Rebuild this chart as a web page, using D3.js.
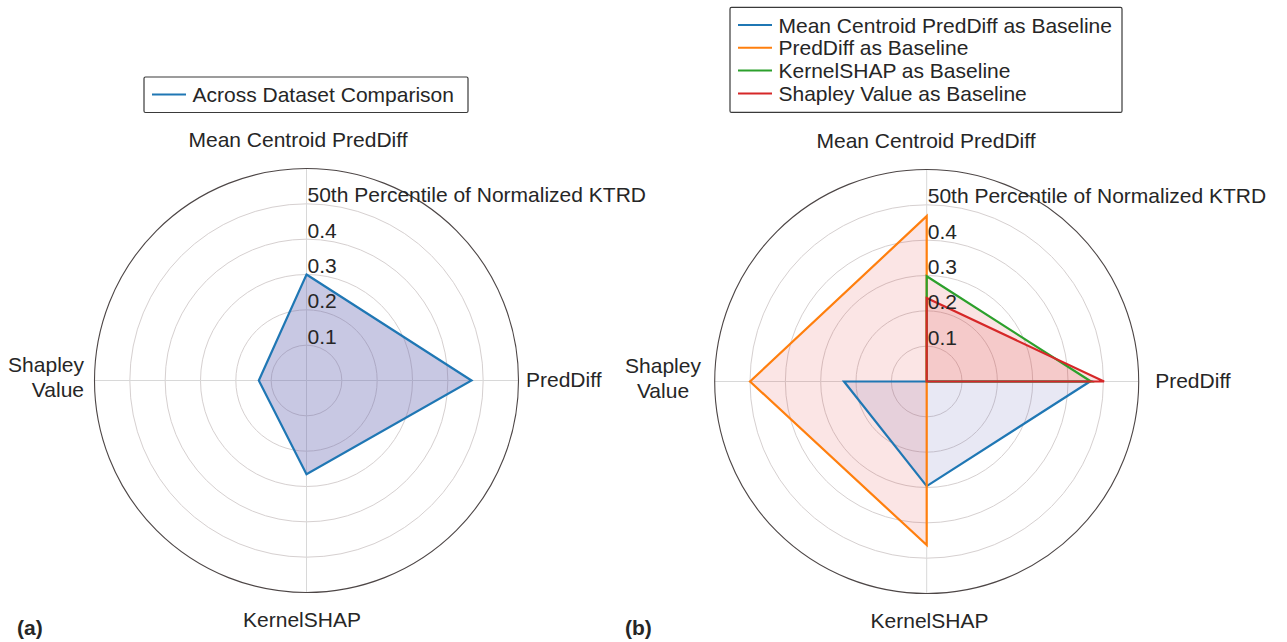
<!DOCTYPE html>
<html>
<head>
<meta charset="utf-8">
<script src="https://cdn.jsdelivr.net/npm/d3@7"></script>
<style>
  body { margin: 0; background: #fff; }
  svg { display: block; }
  text { font-family: "Liberation Sans", Arial, Helvetica, sans-serif; fill: #262626; }
</style>
</head>
<body>
<svg id="fig" width="1287" height="642"></svg>
<script>
// Spoke order, clockwise from the top
const axisNames = ["Mean Centroid PredDiff", "PredDiff", "KernelSHAP", "Shapley Value"];
const radialTicks = [0.1, 0.2, 0.3, 0.4];
const radialGrid = [0.1, 0.2, 0.3, 0.4, 0.5];
const radialMax = 0.6;
const axisTitle = "50th Percentile of Normalized KTRD";

// Panel (a): one series
const acrossNames = ["Across Dataset Comparison"];
const acrossValues = [0.300, 0.467, 0.265, 0.135];

// Panel (b): each method taken as baseline
const baselineNames = [
  "Mean Centroid PredDiff as Baseline",
  "PredDiff as Baseline",
  "KernelSHAP as Baseline",
  "Shapley Value as Baseline"
];
const meanCentroidBaseline = [0.000, 0.462, 0.296, 0.234];
const predDiffBaseline     = [0.468, 0.000, 0.463, 0.500];
const kernelShapBaseline   = [0.298, 0.465, 0.000, 0.000];
const shapleyBaseline      = [0.236, 0.502, 0.000, 0.000];

const lineColors = ["#1f77b4", "#ff7f0e", "#2ca02c", "#d62728"];

const svg = d3.select("#fig");
const R = 212;

function drawRadar(cfg) {
  const g = svg.append("g");
  const r = d3.scaleLinear().domain([0, radialMax]).range([0, R]);
  const ang = d3.scaleLinear().domain([0, axisNames.length]).range([0, 2 * Math.PI]);
  const cx = cfg.cx, cy = cfg.cy;
  const plot = g.append("g").attr("transform", `translate(${cx},${cy})`);

  // grid rings
  plot.selectAll("circle.ring").data(radialGrid).join("circle")
    .attr("r", d => r(d)).attr("fill", "none")
    .attr("stroke", "#d6d0d0").attr("stroke-width", 1);

  // spokes
  plot.selectAll("line.spoke").data(axisNames).join("line")
    .attr("x1", 0).attr("y1", 0)
    .attr("x2", (d, i) => r(radialMax) * Math.sin(ang(i)))
    .attr("y2", (d, i) => -r(radialMax) * Math.cos(ang(i)))
    .attr("stroke", "#d8d8d8").attr("stroke-width", 1);

  // outer boundary
  plot.append("circle").attr("r", r(radialMax)).attr("fill", "none")
    .attr("stroke", "#4d4646").attr("stroke-width", 1.1);

  const radial = d3.lineRadial()
    .angle((d, i) => ang(i))
    .radius(d => r(d))
    .curve(d3.curveLinearClosed);

  // fills first, outlines on top
  plot.selectAll("path.fill").data(cfg.series).join("path")
    .attr("d", s => radial(s.values))
    .attr("fill", s => s.fill).attr("fill-opacity", s => s.fillOpacity)
    .attr("stroke", "none");
  plot.selectAll("path.outline").data(cfg.series).join("path")
    .attr("d", s => radial(s.values))
    .attr("fill", "none").attr("stroke", s => s.color)
    .attr("stroke-width", 2.2).attr("stroke-linejoin", "miter");

  // radial tick labels along the top spoke
  plot.selectAll("text.tick").data(radialTicks).join("text")
    .attr("x", 1).attr("y", d => -r(d) - 1.5)
    .attr("font-size", 21).text(d => d3.format(".1f")(d));
  plot.append("text").attr("x", 1).attr("y", -r(0.5) - 1.5)
    .attr("font-size", 21).text(axisTitle);

  // spoke names
  const L = cfg.labels;
  g.append("text").attr("x", cx + L.top.dx).attr("y", cy - R - L.top.gap)
    .attr("text-anchor", "middle").attr("font-size", 21).text(axisNames[0]);
  g.append("text").attr("x", cx + R + L.right.gap).attr("y", cy + 6.5)
    .attr("text-anchor", "start").attr("font-size", 21).text(axisNames[1]);
  g.append("text").attr("x", cx + L.bottom.dx).attr("y", cy + R + L.bottom.gap)
    .attr("text-anchor", "middle").attr("font-size", 21).text(axisNames[2]);
  const words = axisNames[3].split(" ");
  const lt = g.append("text").attr("font-size", 21).attr("text-anchor", L.left.anchor);
  words.forEach((w, k) => {
    lt.append("tspan").attr("x", cx - R - L.left.gap).attr("y", cy - 8.5 + k * 25).text(w);
  });

  // legend
  const lg = cfg.legend;
  const leg = g.append("g");
  leg.append("rect").attr("x", lg.x).attr("y", lg.y).attr("width", lg.w).attr("height", lg.h)
    .attr("fill", "#fff").attr("stroke", "#3a3a3a").attr("stroke-width", 1.2).attr("rx", 1.5);
  cfg.series.forEach((s, k) => {
    const y = lg.y + lg.first + k * lg.step;
    leg.append("line").attr("x1", lg.x + 8).attr("x2", lg.x + 42).attr("y1", y).attr("y2", y)
      .attr("stroke", s.color).attr("stroke-width", 2);
    leg.append("text").attr("x", lg.x + 48.5).attr("y", y + 7.5).attr("font-size", 21).text(s.name);
  });

  // panel tag
  g.append("text").attr("x", cfg.tag.x).attr("y", 635).attr("font-size", 21)
    .attr("font-weight", "bold").attr("fill", "#1a1a1a").text(cfg.tag.text);
}

drawRadar({
  cx: 306.5, cy: 380.5,
  series: [
    { name: acrossNames[0], values: acrossValues, color: lineColors[0], fill: "#6666b2", fillOpacity: 0.36 }
  ],
  labels: {
    top: { dx: -8.5, gap: 22 },
    right: { gap: 7.5 },
    bottom: { dx: -4.5, gap: 34.5 },
    left: { gap: 10.5, anchor: "end" }
  },
  legend: { x: 144, y: 77, w: 324, h: 35.5, first: 17.5, step: 22.8 },
  tag: { x: 17, text: "(a)" }
});

drawRadar({
  cx: 926.7, cy: 381.5,
  series: [
    { name: baselineNames[0], values: meanCentroidBaseline, color: lineColors[0], fill: "#6666b2", fillOpacity: 0.15 },
    { name: baselineNames[1], values: predDiffBaseline,     color: lineColors[1], fill: "#dc2828", fillOpacity: 0.12 },
    { name: baselineNames[2], values: kernelShapBaseline,   color: lineColors[2], fill: "#dc2828", fillOpacity: 0.13 },
    { name: baselineNames[3], values: shapleyBaseline,      color: lineColors[3], fill: "#dc2828", fillOpacity: 0.13 }
  ],
  labels: {
    top: { dx: -0.7, gap: 22 },
    right: { gap: 16.5 },
    bottom: { dx: 2.8, gap: 34.5 },
    left: { gap: 51.7, anchor: "middle" }
  },
  legend: { x: 730, y: 7.4, w: 392, h: 105, first: 17.6, step: 22.8 },
  tag: { x: 625, text: "(b)" }
});
</script>
</body>
</html>
